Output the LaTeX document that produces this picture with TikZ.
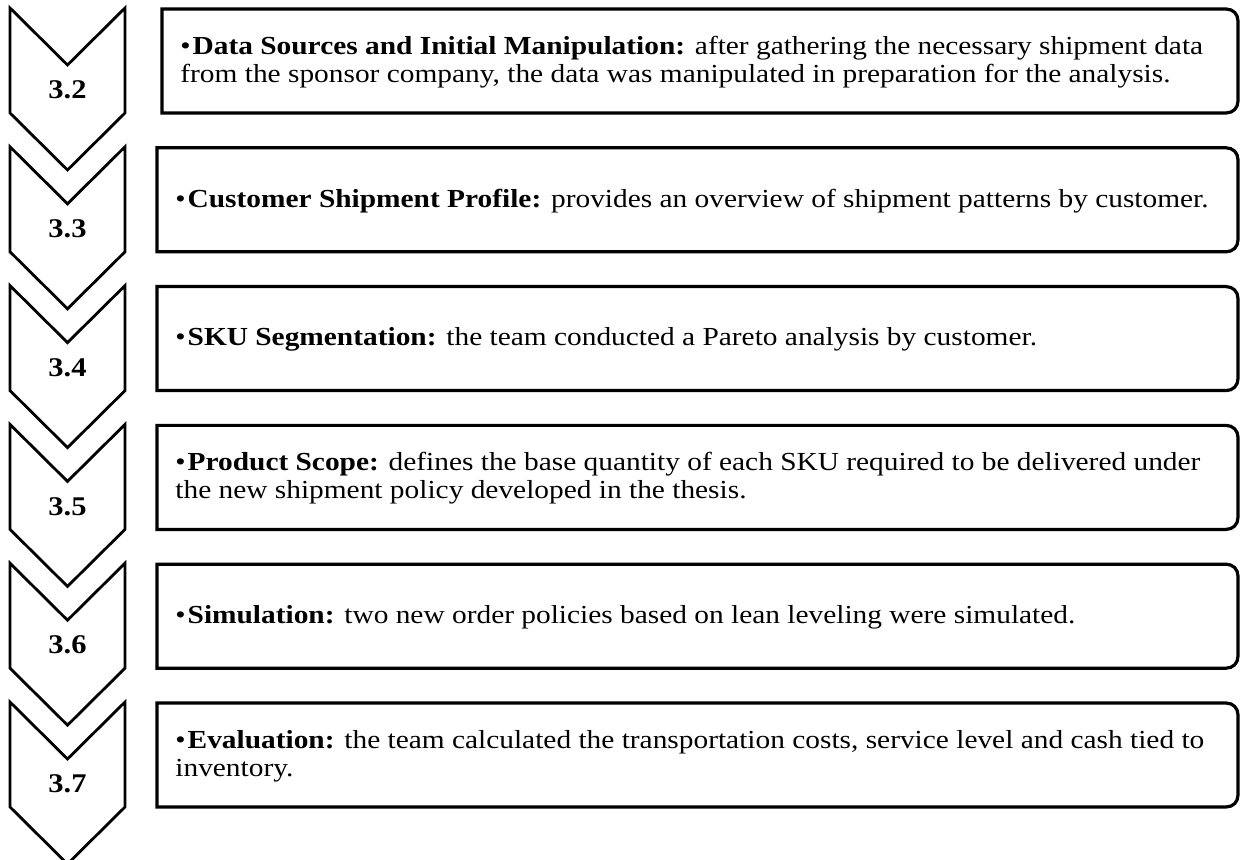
\documentclass[tikz,border=0pt]{standalone}
\usepackage{fontspec}
\setmainfont{Liberation Serif}[FakeStretch=1.13]

\begin{document}
\begin{tikzpicture}[
    x=0.5pt, y=-0.5pt,
    chev/.style={draw=black, line width=1.4pt, line join=miter},
    card/.style={draw=black, line width=1.6pt},
    num/.style={font=\fontsize{13.5}{16}\selectfont\bfseries, inner sep=0pt},
    txt/.style={font=\fontsize{13}{14}\selectfont, align=left, anchor=west, inner sep=0pt},
  ]
  \useasboundingbox (0,0) rectangle (1241,860);

  %% ---------------- chevrons down the left ----------------
  \foreach \k/\lbl in {0/3.2,1/3.3,2/3.4,3/3.5,4/3.6,5/3.7} {
    \pgfmathsetmacro{\yt}{8+138.8*\k}
    \draw[chev] (10,\yt) -- ++(57.5,57) -- ++(57.5,-57) -- ++(0,105)
      -- ++(-57.5,57) -- ++(-57.5,-57) -- cycle;
    \node[num] (n\k) at (67.5,\yt+82) {\lbl};
  }

  %% ---------------- step boxes, rounded on the right ----------------
  \foreach \k/\xl/\body in {
      0/162/{\textbf{Data Sources and Initial Manipulation:} after gathering the necessary shipment data\\from the sponsor company, the data was manipulated in preparation for the analysis.},
      1/157/{\textbf{Customer Shipment Profile:} provides an overview of shipment patterns by customer.},
      2/157/{\textbf{SKU Segmentation:} the team conducted a Pareto analysis by customer.},
      3/157/{\textbf{Product Scope:} defines the base quantity of each SKU required to be delivered under\\the new shipment policy developed in the thesis.},
      4/157/{\textbf{Simulation:} two new order policies based on lean leveling were simulated.},
      5/157/{\textbf{Evaluation:} the team calculated the transportation costs, service level and cash tied to\\inventory.}} {
    \pgfmathsetmacro{\yt}{9+138.8*\k}
    \draw[card] (\xl,\yt) -- (1226,\yt) .. controls (1233,\yt) and (1238,\yt+5) .. (1238,\yt+12)
      -- (1238,\yt+92) .. controls (1238,\yt+99) and (1233,\yt+104) .. (1226,\yt+104)
      -- (\xl,\yt+104) -- cycle;
    \node[txt] (t\k) at (\xl+18,\yt+53) {\textbullet\kern1pt\body};
  }

\end{tikzpicture}
\end{document}
